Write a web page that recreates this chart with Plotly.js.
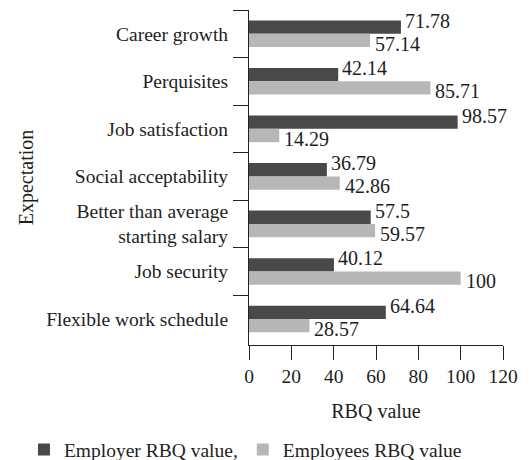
<!DOCTYPE html>
<html>
<head>
<meta charset="utf-8">
<script src="https://cdn.plot.ly/plotly-3.0.1.min.js"></script>
<style>html,body{margin:0;padding:0;background:#fff;}#chart{width:529px;height:460px;}</style>
</head>
<body>
<div id="chart"></div>
<script>
const categories = [
  "Career growth",
  "Perquisites",
  "Job satisfaction",
  "Social acceptability",
  "Better than average<br>starting salary",
  "Job security",
  "Flexible work schedule"
];
const employerValues = [71.78, 42.14, 98.57, 36.79, 57.5, 40.12, 64.64];
const employeesValues = [57.14, 85.71, 14.29, 42.86, 59.57, 100, 28.57];
const employerLabels = ["71.78", "42.14", "98.57", "36.79", "57.5", "40.12", "64.64"];
const employeesLabels = ["57.14", "85.71", "14.29", "42.86", "59.57", "100", "28.57"];
const xTickVals = [0, 20, 40, 60, 80, 100, 120];

const FONT = "'Liberation Serif', 'Times New Roman', serif";
const DARK = "#494949";
const LIGHT = "#b7b7b7";
const TXT = "#1e1e1e";

const traces = [
  {type: "bar", orientation: "h", name: "Employer RBQ value,", y: categories, x: employerValues,
   marker: {color: DARK, line: {width: 0}}},
  {type: "bar", orientation: "h", name: "Employees RBQ value", y: categories, x: employeesValues,
   marker: {color: LIGHT, line: {width: 0}}}
];

const annotations = [];
categories.forEach((c, i) => {
  annotations.push({x: employerValues[i], y: c, xref: "x", yref: "y", text: employerLabels[i],
    showarrow: false, xanchor: "left", yanchor: "middle", xshift: 2, yshift: 13,
    font: {family: FONT, size: 20, color: TXT}});
  annotations.push({x: employeesValues[i], y: c, xref: "x", yref: "y", text: employeesLabels[i],
    showarrow: false, xanchor: "left", yanchor: "middle", xshift: 3, yshift: -10,
    font: {family: FONT, size: 20, color: TXT}});
});

const layout = {
  width: 529, height: 460,
  margin: {l: 249, r: 26, t: 10, b: 115, autoexpand: false},
  paper_bgcolor: "#fff", plot_bgcolor: "#fff",
  font: {family: FONT, size: 19, color: TXT},
  barmode: "group", bargap: 0.44, bargroupgap: 0,
  showlegend: true,
  legend: {orientation: "h", x: -0.886, xref: "paper", xanchor: "left", y: -0.313, yref: "paper", yanchor: "middle",
    font: {family: FONT, size: 19.5, color: TXT}, traceorder: "normal", itemwidth: 30},
  xaxis: {range: [0, 120], tickvals: xTickVals, ticktext: xTickVals.map(String),
    showgrid: false, zeroline: false, showline: true, linecolor: "#222", linewidth: 1,
    ticks: "outside", ticklen: 14, tickcolor: "#222", automargin: false,
    tickfont: {family: FONT, size: 19.5, color: TXT},
    title: {text: "RBQ value", font: {family: FONT, size: 20, color: TXT}, standoff: 17}},
  yaxis: {autorange: "reversed", type: "category", tickson: "boundaries",
    showgrid: false, zeroline: false, showline: true, linecolor: "#222", linewidth: 1,
    ticks: "outside", ticklen: 15, tickcolor: "#222", ticklabelstandoff: 16, automargin: false,
    tickfont: {family: FONT, size: 19.5, color: TXT},
    title: {text: "Expectation", font: {family: FONT, size: 20, color: TXT}, standoff: 7}},
  annotations: annotations
};

Plotly.newPlot("chart", traces, layout, {displayModeBar: false, staticPlot: true});
</script>
</body>
</html>
